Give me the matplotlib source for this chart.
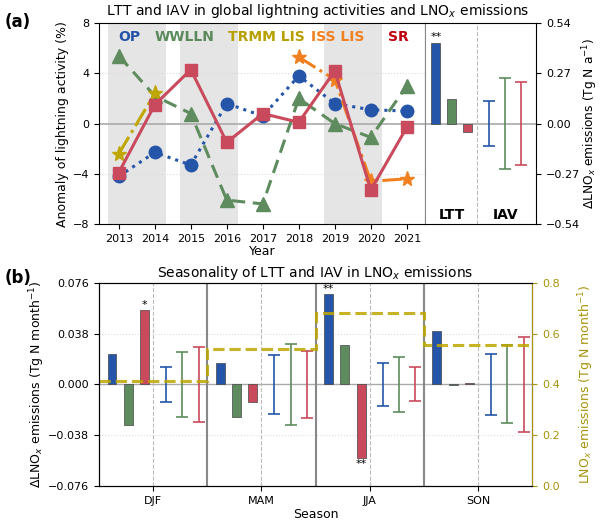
import numpy as np
import matplotlib.pyplot as plt

# ---- data: panel (a), anomalies of lightning activity (%)
years = [2013, 2014, 2015, 2016, 2017, 2018, 2019, 2020, 2021]
op = [-4.2, -2.3, -3.3, 1.6, 0.6, 3.8, 1.6, 1.1, 1.0]
wwlln = [5.4, 2.2, 0.8, -6.1, -6.4, 2.0, 0.0, -1.1, 3.0]
trmm_years = [2013, 2014]
trmm = [-2.4, 2.4]
iss_years = [2018, 2019, 2020, 2021]
iss = [5.3, 3.5, -4.6, -4.4]
sr = [-3.9, 1.5, 4.3, -1.5, 0.8, 0.1, 4.2, -5.3, -0.3]

# LTT (bars) and IAV (+/- range) of LNOx emissions, Tg N a-1 (OP, WWLLN, SR)
ltt = [0.435, 0.133, -0.043]
iav = [0.12, 0.243, 0.225]

# ---- data: panel (b), seasonal
seasons = ['DJF', 'MAM', 'JJA', 'SON']
ltt_op = [0.0231, 0.0159, 0.0678, 0.0397]
ltt_ww = [-0.0306, -0.0246, 0.0298, -0.0005]
ltt_sr = [0.0554, -0.0130, -0.0551, 0.0010]
iav_op = [0.0130, 0.0220, 0.0159, 0.0230]
iav_ww = [0.0243, 0.0303, 0.0207, 0.0292]
iav_sr = [0.0278, 0.0248, 0.0127, 0.0358]
lnox = [0.414, 0.540, 0.682, 0.554]

c_blue = '#2455a8'
c_green = '#5e8c5e'
c_red = '#c94a5c'
c_olive = '#bfa600'
c_orange = '#f08020'
c_olive_ax = '#a8920a'

TICK = 8
LAB = 9

fig = plt.figure(figsize=(6, 5.27), dpi=100)

# ================= panel (a) =================
ax = fig.add_axes([0.165, 0.575, 0.543, 0.381])
axr = fig.add_axes([0.708, 0.575, 0.186, 0.381])

for x0, x1 in [(2012.7, 2014.3), (2014.7, 2016.3), (2018.7, 2020.3)]:
    ax.axvspan(x0, x1, color='#e5e5e5', lw=0, zorder=0)
ax.axhline(0, color='#aaaaaa', lw=1.2, zorder=1)
for yv in [-4, 4]:
    ax.axhline(yv, color='#dddddd', lw=0.8, ls=':', zorder=1)

ax.plot(years, op, ls=':', lw=2.2, color=c_blue, marker='o', ms=9, zorder=3)
ax.plot(years, wwlln, ls='--', lw=2.2, color=c_green, marker='^', ms=9.5,
        dashes=(4.5, 2.5), zorder=3)
ax.plot(trmm_years, trmm, ls='-.', lw=2.2, color=c_olive, marker='*', ms=11, zorder=4)
ax.plot(iss_years, iss, ls='-.', lw=2.2, color=c_orange, marker='*', ms=11, zorder=4)
ax.plot(years, sr, ls='-', lw=2.2, color=c_red, marker='s', ms=9, zorder=5)

ax.set_xlim(2012.45, 2021.5)
ax.set_ylim(-8, 8)
ax.set_xticks(years)
ax.set_yticks([-8, -4, 0, 4, 8])
ax.set_xlabel('Year', fontsize=LAB, labelpad=1)
ax.set_ylabel('Anomaly of lightning activity (%)', fontsize=LAB, labelpad=3)
ax.tick_params(labelsize=TICK)
ax.spines['right'].set_color('#888888')

names = [('OP', c_blue, 0.092), ('WWLLN', '#5a8a5a', 0.262), ('TRMM LIS', '#b8a000', 0.515),
         ('ISS LIS', c_orange, 0.732), ('SR', '#c00010', 0.92)]
for txt, col, xf in names:
    ax.text(xf, 0.93, txt, transform=ax.transAxes, color=col, fontsize=10,
            fontweight='bold', ha='center', va='center')

# right part: LTT and IAV
axr.axhline(0, color='#aaaaaa', lw=1.2, zorder=1)
axr.axvline(3.3, color='#bbbbbb', lw=0.8, ls='--', zorder=1)
axr.bar([0.7, 1.7, 2.7], ltt, width=0.56, color=[c_blue, c_green, c_red],
        edgecolor='#444444', lw=0.5, zorder=3)
for xp, e, col in zip([4.05, 5.05, 6.05], iav, [c_blue, c_green, c_red]):
    axr.errorbar(xp, 0, yerr=e, color=col, capsize=4, lw=1.2, capthick=1.2, zorder=3)
axr.text(0.7, ltt[0] + 0.002, '**', ha='center', va='bottom', fontsize=8)
axr.text(1.7, -0.49, 'LTT', ha='center', va='center', fontsize=10, fontweight='bold')
axr.text(5.05, -0.49, 'IAV', ha='center', va='center', fontsize=10, fontweight='bold')
axr.set_xlim(0, 7)
axr.set_ylim(-0.54, 0.54)
axr.set_xticks([])
axr.set_yticks([-0.54, -0.27, 0, 0.27, 0.54])
axr.set_yticklabels(['\u22120.54', '\u22120.27', '0.00', '0.27', '0.54'])
axr.yaxis.tick_right()
axr.yaxis.set_label_position('right')
axr.set_ylabel('\u0394LNO$_x$ emissions (Tg N a$^{-1}$)', fontsize=8.8, labelpad=0)
axr.tick_params(labelsize=TICK)
axr.spines['left'].set_color('#888888')

fig.text(0.53, 0.962, 'LTT and IAV in global lightning activities and LNO$_x$ emissions',
         ha='center', va='bottom', fontsize=10)
fig.text(0.008, 0.958, '(a)', fontsize=12, fontweight='bold', va='center')

# ================= panel (b) =================
axb = fig.add_axes([0.165, 0.078, 0.722, 0.385])
xs = np.arange(len(seasons))
bar_off = [-0.38, -0.23, -0.08]
err_off = [0.12, 0.27, 0.42]

axb.axhline(0, color='#aaaaaa', lw=1.0, zorder=1)
for yv in [-0.038, 0.038]:
    axb.axhline(yv, color='#dddddd', lw=0.8, ls=':', zorder=1)
for b in [0.5, 1.5, 2.5]:
    axb.axvline(b, color='#888888', lw=1.5, zorder=1)
for x in xs:
    axb.axvline(x, color='#bbbbbb', lw=0.8, ls='--', zorder=1)

for off, vals, col in zip(bar_off, [ltt_op, ltt_ww, ltt_sr], [c_blue, c_green, c_red]):
    axb.bar(xs + off, vals, width=0.083, color=col, edgecolor='#444444', lw=0.5, zorder=3)
for off, vals, col in zip(err_off, [iav_op, iav_ww, iav_sr], [c_blue, c_green, c_red]):
    axb.errorbar(xs + off, np.zeros(len(xs)), yerr=vals, fmt='none', ecolor=col,
                 capsize=4, elinewidth=1.2, capthick=1.2, zorder=3)

axb.text(0 + bar_off[2], ltt_sr[0] + 0.0003, '*', ha='center', va='bottom', fontsize=8)
axb.text(2 + bar_off[0], ltt_op[2] + 0.0003, '**', ha='center', va='bottom', fontsize=8)
axb.text(2 + bar_off[2], ltt_sr[2] - 0.001, '**', ha='center', va='top', fontsize=8)

axb.set_xlim(-0.5, 3.5)
axb.set_ylim(-0.076, 0.076)
axb.set_xticks(xs)
axb.set_xticklabels(seasons)
axb.set_yticks([-0.076, -0.038, 0, 0.038, 0.076])
axb.set_yticklabels(['\u22120.076', '\u22120.038', '0.000', '0.038', '0.076'])
axb.tick_params(labelsize=TICK)
axb.set_xlabel('Season', fontsize=LAB, labelpad=2)
axb.set_ylabel('\u0394LNO$_x$ emissions (Tg N month$^{-1}$)', fontsize=LAB, labelpad=1)
axb.set_title('Seasonality of LTT and IAV in LNO$_x$ emissions', fontsize=10, pad=4)

axt = axb.twinx()
axt.stairs(lnox, np.arange(len(seasons) + 1) - 0.5, baseline=None, color=c_olive,
           ls='--', lw=2.2, alpha=0.85)
axt.set_ylim(0, 0.8)
axt.set_yticks([0, 0.2, 0.4, 0.6, 0.8])
axt.tick_params(labelsize=TICK, colors=c_olive_ax)
axt.spines['right'].set_color(c_olive_ax)
axt.set_ylabel('LNO$_x$ emissions (Tg N month$^{-1}$)', fontsize=LAB, color=c_olive_ax,
               labelpad=12)

fig.text(0.008, 0.472, '(b)', fontsize=12, fontweight='bold', va='center')

fig.savefig('out.png', dpi=100)
